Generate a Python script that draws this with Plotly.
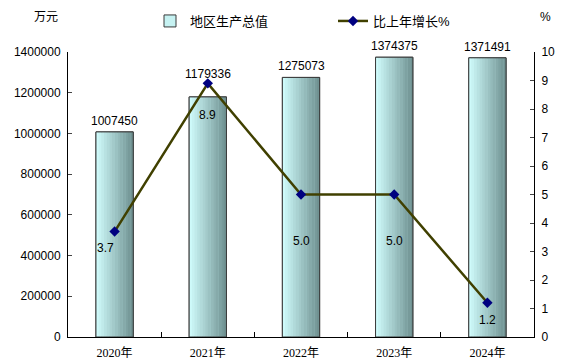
import plotly.graph_objects as go

categories = ["2020年", "2021年", "2022年", "2023年", "2024年"]
gdp = [1007450, 1179336, 1275073, 1374375, 1371491]
growth = [3.7, 8.9, 5.0, 5.0, 1.2]
gdp_labels = ["1007450", "1179336", "1275073", "1374375", "1371491"]
growth_labels = ["3.7", "8.9", "5.0", "5.0", "1.2"]
left_ticks = [0, 200000, 400000, 600000, 800000, 1000000, 1200000, 1400000]
right_ticks = list(range(0, 11))

# style settings
bar_w = 0.4
n_strips = 14
gdp_label_shift = [2, 14, 2, 2, 2]
growth_label_dx = [-9, 0, 0, 0, 0]
growth_label_dy = [-16, -32, -46, -46, -17]

def lerp(c1, c2, t):
    return "rgb(%d,%d,%d)" % tuple(round(a + (b - a) * t) for a, b in zip(c1, c2))

c_left = (206, 250, 250)
c_right = (112, 146, 146)

# page body margin offset (8px) compensation
OFF = 8
W, H = 578, 363
# target plot area in screenshot coords: x 68..534, y 52..337
ml, mt = 68 - OFF, 52 - OFF
mr = W - (534 - OFF)
mb = H - (337 - OFF)
pw, ph = W - ml - mr, H - mt - mb
def px(x):
    return (x - OFF - ml) / pw
def py(y):
    return (H - mb - (y - OFF)) / ph

font_main = "Liberation Sans, Arial, Noto Sans CJK SC"

fig = go.Figure()
fig.add_trace(go.Bar(x=categories, y=gdp, width=bar_w, name="地区生产总值",
                     marker=dict(color="#c6f2f2", line=dict(color="#3a3a3a", width=1)),
                     legend="legend"))
for i in range(n_strips):
    t = i / (n_strips - 1)
    fig.add_trace(go.Bar(x=categories, y=gdp, width=bar_w / n_strips + 0.003,
                         offset=-bar_w / 2 + i * bar_w / n_strips,
                         marker=dict(color=lerp(c_left, c_right, t), line=dict(width=0)),
                         showlegend=False, hoverinfo="skip"))
fig.add_trace(go.Bar(x=categories, y=gdp, width=bar_w,
                     marker=dict(color="rgba(0,0,0,0)", line=dict(color="#3a3a3a", width=1)),
                     showlegend=False))
fig.add_trace(go.Scatter(x=categories, y=growth, yaxis="y2", mode="lines+markers",
                         name="比上年增长%",
                         line=dict(color="#404000", width=2.5),
                         marker=dict(symbol="diamond", color="#000080", size=8),
                         legend="legend2"))
fig.add_trace(go.Scatter(x=[None], y=[None], xaxis="x2", showlegend=False, hoverinfo="skip"))

ann = []
for c, v, s, sh in zip(categories, gdp, gdp_labels, gdp_label_shift):
    ann.append(dict(x=c, y=v, yref="y", text=s, showarrow=False, yanchor="bottom",
                    yshift=sh, font=dict(size=12, color="black", family=font_main)))
for c, v, s, dx, dy in zip(categories, growth, growth_labels, growth_label_dx, growth_label_dy):
    ann.append(dict(x=c, y=v, yref="y2", text=s, showarrow=False, yanchor="middle",
                    xshift=dx, yshift=dy, font=dict(size=12, color="black", family=font_main)))
ann.append(dict(x=px(46), y=py(17), xref="paper", yref="paper", text="万元",
                xanchor="center", yanchor="middle",
                showarrow=False, font=dict(size=12, color="black", family=font_main)))
ann.append(dict(x=px(545), y=py(17), xref="paper", yref="paper", text="%",
                xanchor="center", yanchor="middle",
                showarrow=False, font=dict(size=12, color="black", family=font_main)))

fig.update_layout(
    width=W, height=H,
    margin=dict(l=ml, r=mr, t=mt, b=mb, autoexpand=False),
    plot_bgcolor="white", paper_bgcolor="white",
    barmode="overlay",
    annotations=ann,
    font=dict(family=font_main, size=12, color="black"),
    xaxis=dict(type="category", showline=True, linecolor="black", linewidth=1,
               ticks="", showgrid=False, range=[-0.5, 4.5], automargin=False,
               ticklabelstandoff=5,
               tickfont=dict(family="Liberation Serif, Noto Sans CJK SC", size=12)),
    xaxis2=dict(overlaying="x", range=[-0.5, 4.5], tickvals=[0.5, 1.5, 2.5, 3.5],
                ticks="inside", ticklen=5, showticklabels=False, showline=False,
                showgrid=False, zeroline=False, anchor="y", side="bottom",
                tickcolor="black"),
    yaxis=dict(range=[0, 1400000], tickvals=left_ticks, ticktext=[str(v) for v in left_ticks],
               showline=True, linecolor="black", linewidth=1, ticks="inside", ticklen=4,
               showgrid=False, zeroline=False, tickfont=dict(size=12), automargin=False,
               ticklabelstandoff=4),
    yaxis2=dict(range=[0, 10], tickvals=right_ticks, overlaying="y", side="right",
                showline=True, linecolor="black", linewidth=1, ticks="inside", ticklen=4,
                showgrid=False, zeroline=False, tickfont=dict(size=12), automargin=False,
                ticklabelstandoff=4),
    legend=dict(orientation="h", x=px(150), y=py(21), xanchor="left", yanchor="middle",
                bgcolor="rgba(0,0,0,0)", font=dict(size=13)),
    legend2=dict(orientation="h", x=px(333), y=py(21), xanchor="left", yanchor="middle",
                 bgcolor="rgba(0,0,0,0)", font=dict(size=13)),
)
fig.write_html("out.html")
